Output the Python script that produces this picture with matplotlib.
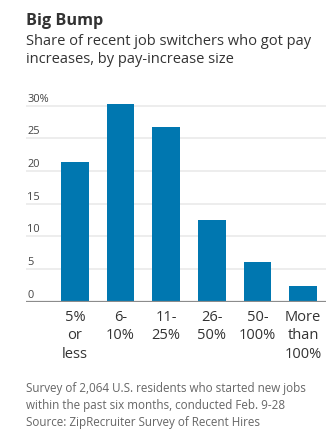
import matplotlib
matplotlib.use('Agg')
import matplotlib.pyplot as plt
import matplotlib.transforms as mtransforms

plt.rcParams['font.family'] = ['Open Sans', 'DejaVu Sans']

# pay-increase size buckets and share of job switchers (%)
categories = ['5%\nor\nless', '6-\n10%', '11-\n25%', '26-\n50%', '50-\n100%', 'More\nthan\n100%']
shares = [21.3, 30.3, 26.7, 12.5, 6.1, 2.4]
y_ticks = [0, 5, 10, 15, 20, 25, 30]
y_tick_labels = ['0', '5', '10', '15', '20', '25', '30%']

W, H = 336, 447
fig = plt.figure(figsize=(W / 100, H / 100), dpi=100)
ax = fig.add_axes([26 / W, 1 - 301.7 / H, 300 / W, (301.7 - 99) / H])

x = range(len(categories))
ax.bar(x, shares, width=0.61, color='#0077b0', zorder=2)
ax.set_xlim(-1.07, 5.5)
ax.set_ylim(0, 31)

for s in ax.spines.values():
    s.set_visible(False)
ax.set_yticks([])
for t in y_ticks:
    if t == 0:
        ax.axhline(t, color='#8c8c8c', lw=1.6, zorder=3)
    else:
        ax.axhline(t, color='#ececec', lw=1.3, zorder=1)

# tick labels sit just above their gridlines, flush left
off = mtransforms.ScaledTranslation(1 / 100, 4 / 100, fig.dpi_scale_trans)
trans = ax.get_yaxis_transform() + off
for t, lab in zip(y_ticks, y_tick_labels):
    ax.text(0, t, lab, transform=trans, ha='left', va='baseline',
            fontsize=7.9, color='#444444')

ax.set_xticks(list(x))
ax.set_xticklabels(categories, fontsize=10.5, color='#333333', linespacing=1.3)
ax.tick_params(axis='x', length=0, pad=6)

fig.text(26 / W, 1 - 25 / H, 'Big Bump', fontsize=11.7, fontweight='bold',
         color='#333333', va='baseline', ha='left')
fig.text(26 / W, 1 - 45 / H, 'Share of recent job switchers who got pay',
         fontsize=10.5, color='#333333', va='baseline', ha='left')
fig.text(26 / W, 1 - 63.3 / H, 'increases, by pay-increase size',
         fontsize=10.5, color='#333333', va='baseline', ha='left')

notes = ['Survey of 2,064 U.S. residents who started new jobs',
         'within the past six months, conducted Feb. 9-28',
         'Source: ZipRecruiter Survey of Recent Hires']
for i, line in enumerate(notes):
    fig.text(26 / W, 1 - (391.7 + 17 * i) / H, line, fontsize=8.35,
             color='#666666', va='baseline', ha='left')

fig.savefig('out.png', dpi=100, facecolor='white')
